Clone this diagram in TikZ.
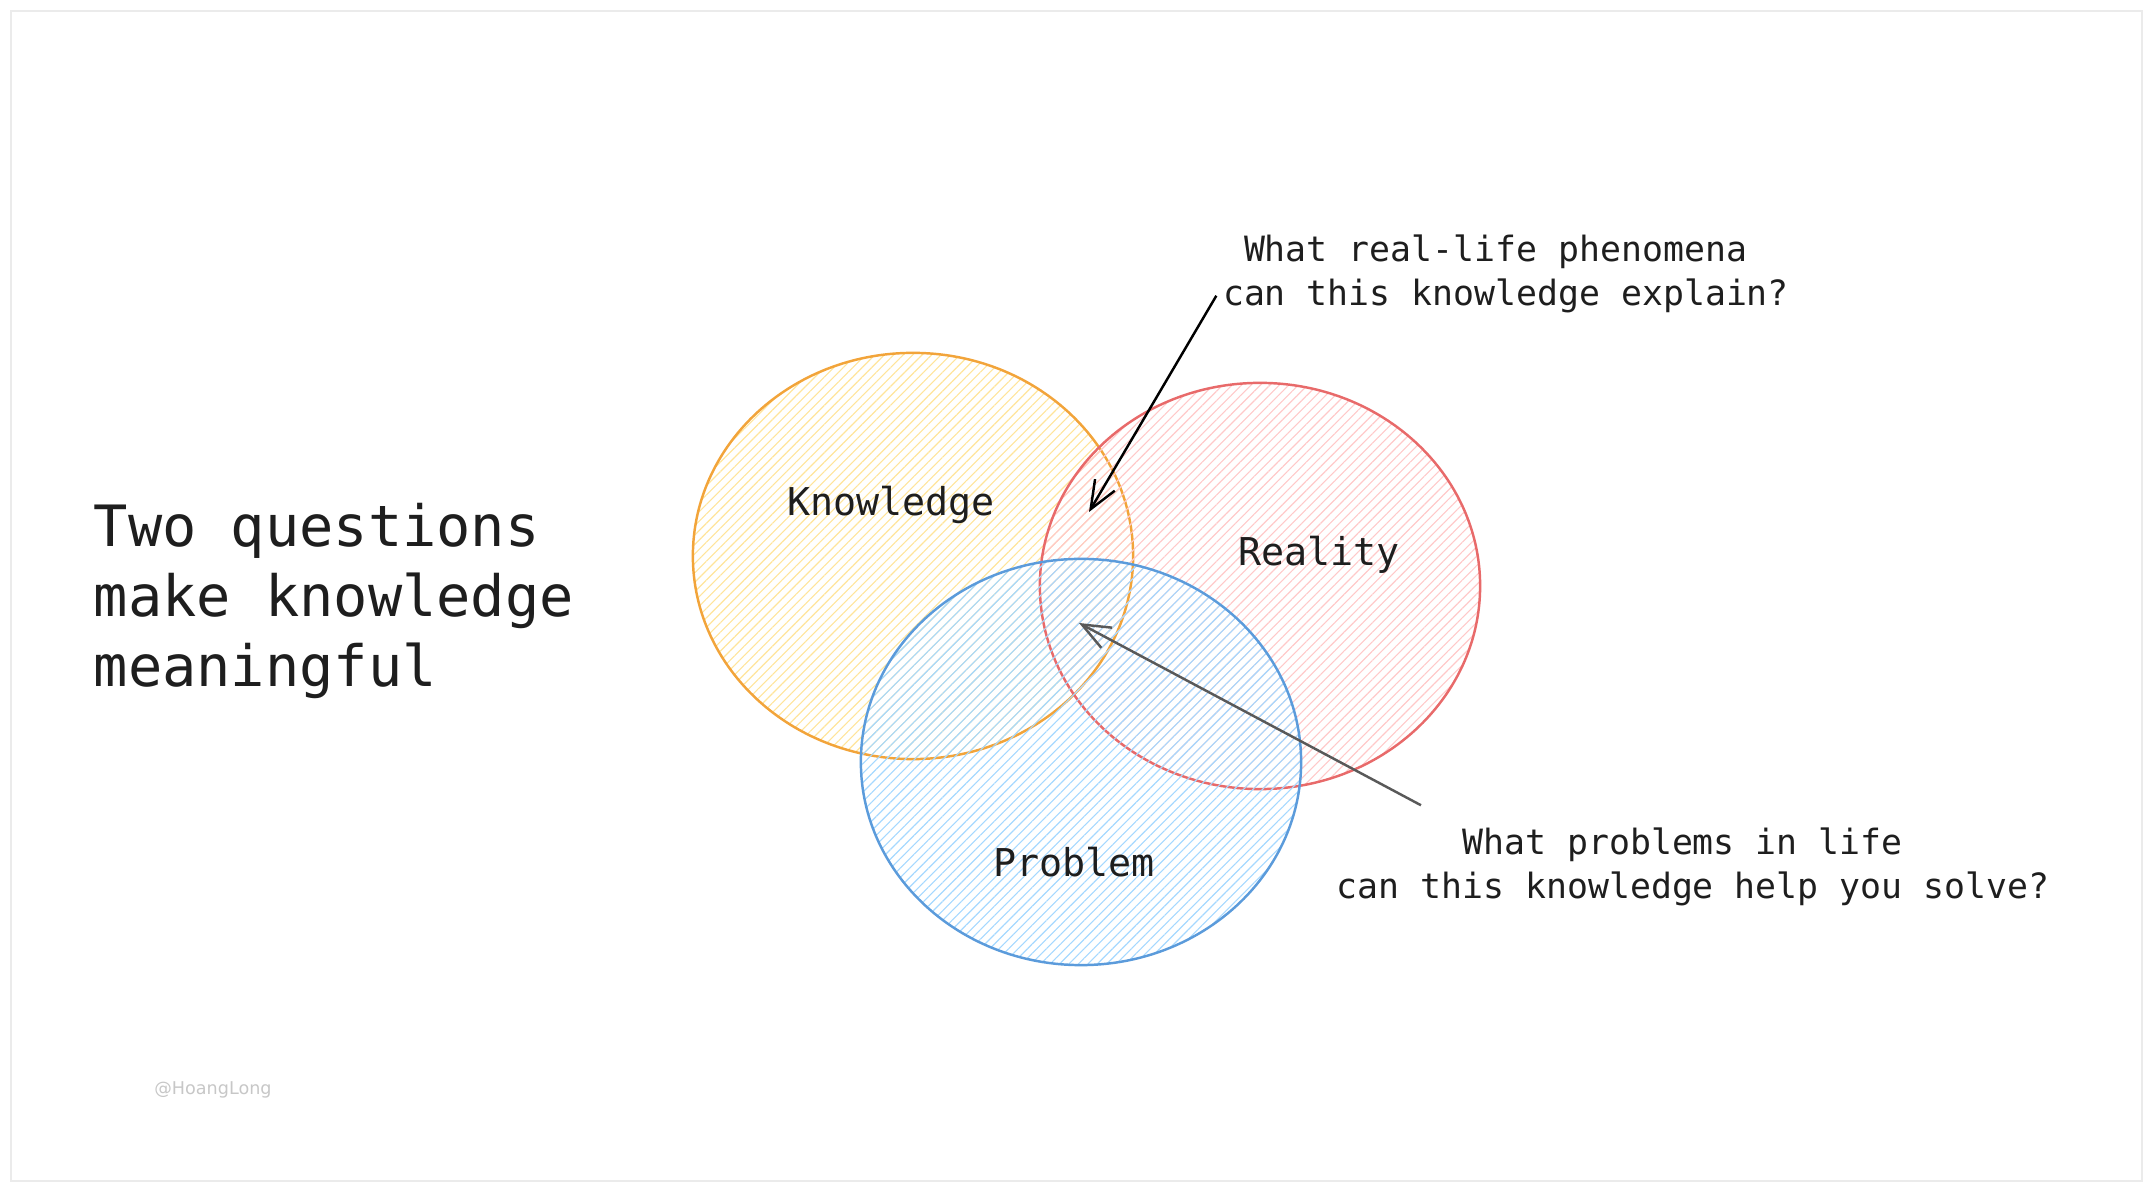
\documentclass[tikz,border=0pt]{standalone}
\usepackage{fontspec}
\setmainfont{DejaVu Sans Mono}
\newfontfamily\markfont{DejaVu Sans}
\usepackage{tikz}
\usetikzlibrary{shapes.geometric, arrows.meta, patterns.meta, positioning}

\definecolor{inkdark}{HTML}{1E1E1E}
\definecolor{knowline}{HTML}{F2A43A}
\definecolor{knowfill}{HTML}{FFE49A}
\definecolor{realline}{HTML}{E86A6A}
\definecolor{realfill}{HTML}{FFC9C9}
\definecolor{probline}{HTML}{5B9BDB}
\definecolor{probfill}{HTML}{A5D8FF}
\definecolor{framegray}{HTML}{EBEBEB}

\begin{document}
\begin{tikzpicture}[x=0.01cm, y=-0.01cm,
    bubble/.style={ellipse, draw=#1line, line width=0.7pt,
      minimum width=4.4cm, minimum height=4.06cm, inner sep=0pt,
      pattern={Lines[angle=45, distance=1.9pt, line width=0.32pt]},
      pattern color=#1fill},
    setlabel/.style={font=\fontsize{10.9}{13}\selectfont, text=inkdark},
    question/.style={align=center, inner sep=0pt, text=inkdark,
      font=\fontsize{9.9}{12.5}\selectfont},
    pointer/.style={-{Straight Barb[length=8pt, width=6.5pt]}, line width=0.7pt}]
        \useasboundingbox (0,0) rectangle (2153,1192);
        % Khung nền
        \draw[framegray, line width=0.6pt] (11,11) rectangle (2142,1181);

        % Ba tập hợp
        \node[bubble=know] (know) at (913,556) {};
        \node[bubble=real] (real) at (1260,586) {};
        \node[bubble=prob] (prob) at (1081,762) {};

        % Nhãn các tập hợp
        \node[setlabel] (knowtext) at (891,505) {Knowledge};
        \node[setlabel] (realtext) at (1319,555) {Reality};
        \node[setlabel] (probtext) at (1074,862) {Problem};

        % Tiêu đề
        \node[anchor=west, align=left, inner sep=0pt, text=inkdark,
          font=\fontsize{16.2}{19.9}\selectfont] (title) at (93,601)
          {Two questions\\make knowledge\\meaningful};

        % Hai câu hỏi
        \node[question] (q1) at (1506,274)
          {What real-life phenomena\phantom{x}\\can this knowledge explain?};
        \node[question] (q2) at (1693,867)
          {What problems in life\phantom{x}\\can this knowledge help you solve?};

        % Mũi tên
        \coordinate (kr) at (1089,512);
        \coordinate (krp) at (1079,623);
        \draw[pointer, black] ([shift={(-6,-18)}]q1.south west) -- (kr);
        \draw[pointer, black!65] ([shift={(85,-22)}]q2.north west) -- (krp);

        % Chữ ký
        \node[font=\markfont\fontsize{5}{6}\selectfont, text=black!22] (mark)
          at (213,1090) {@HoangLong};
      \end{tikzpicture}
\end{document}
